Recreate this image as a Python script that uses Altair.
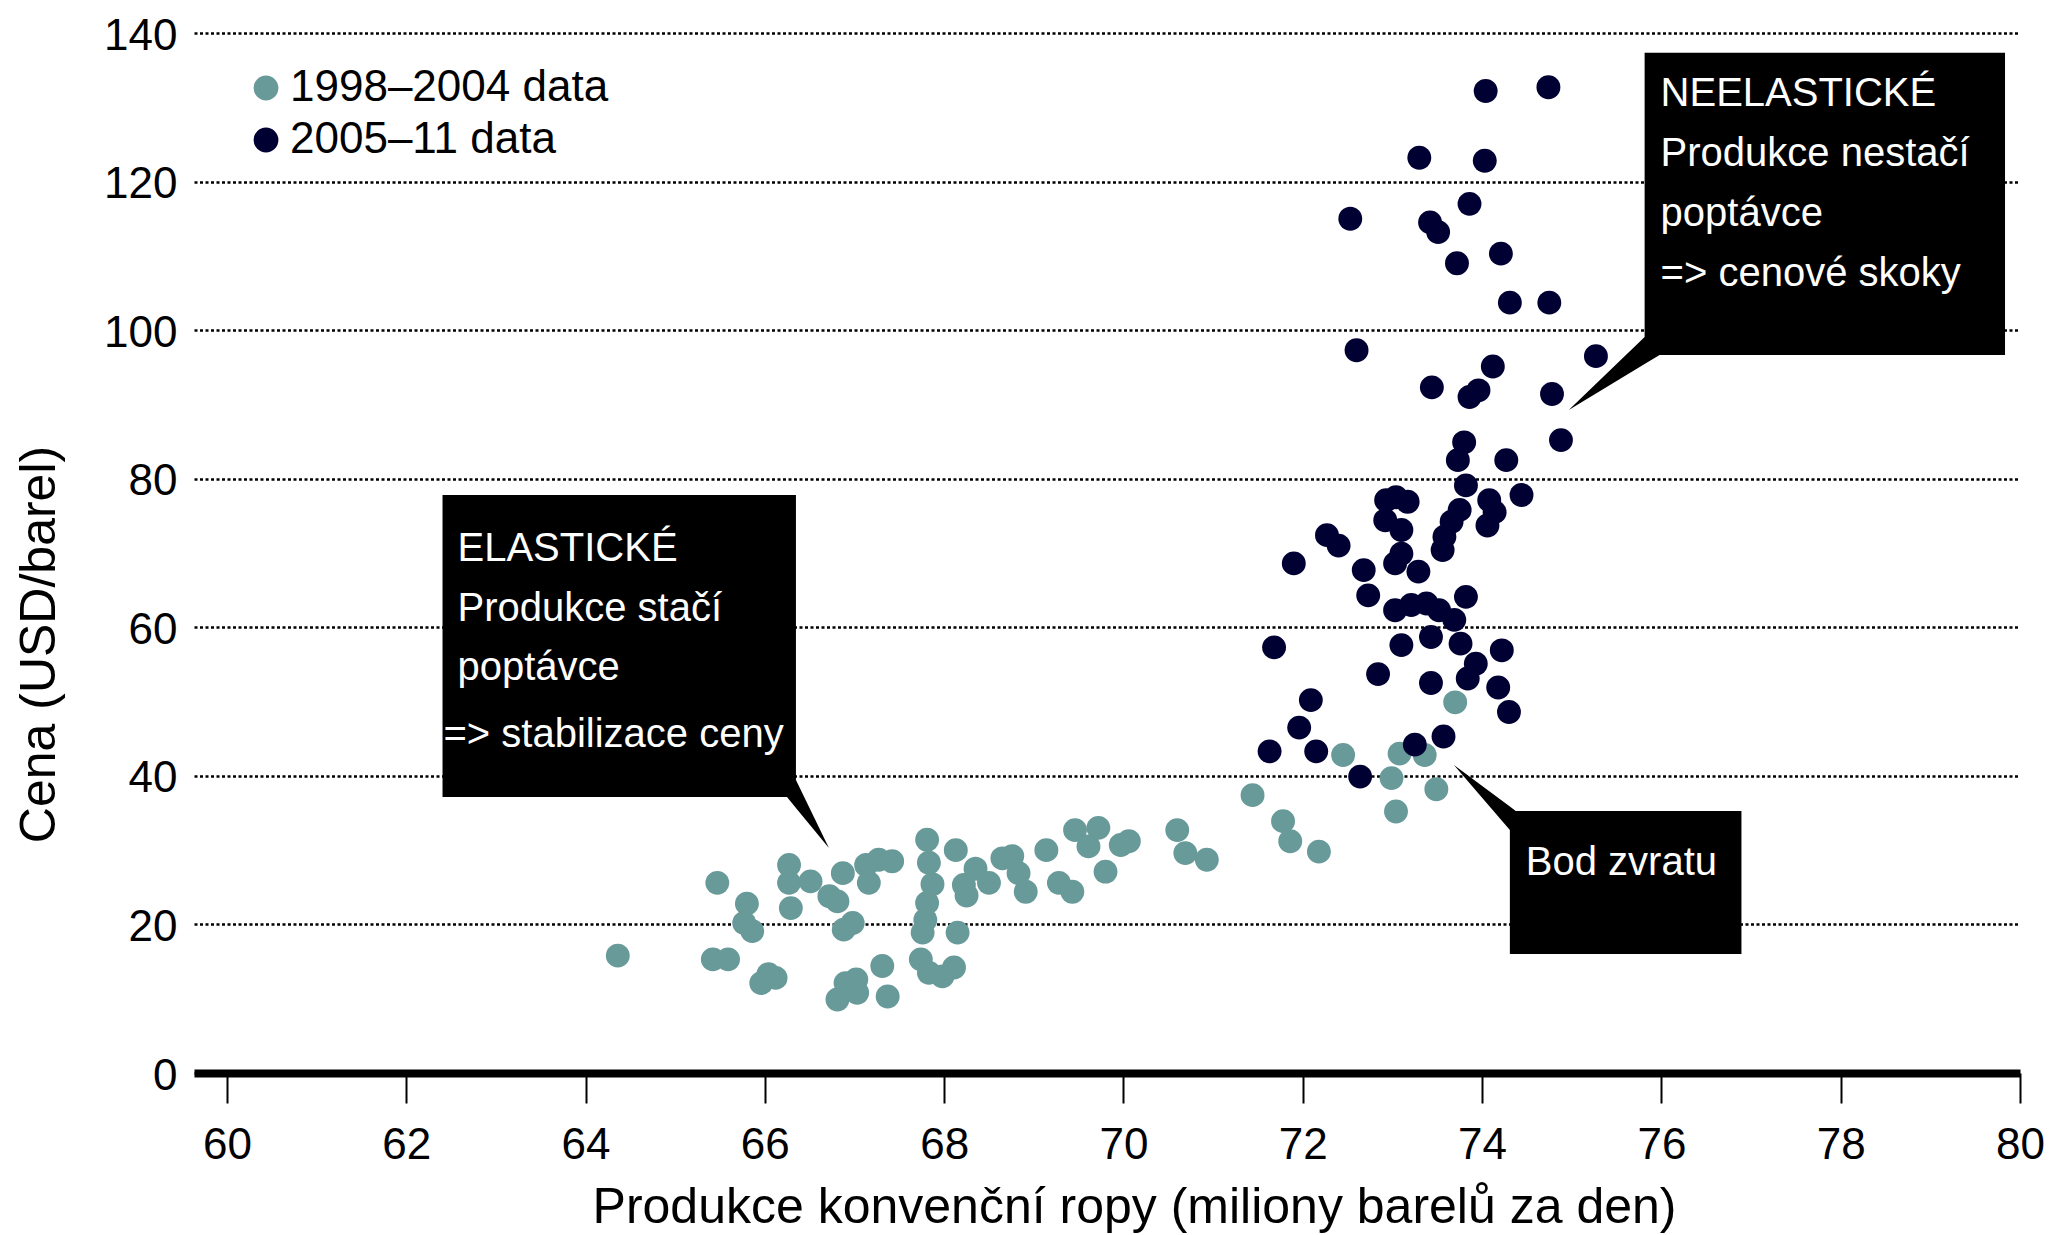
import altair as alt
import pandas as pd

# ---------------- data ----------------
series_names = ["1998–2004 data", "2005–11 data"]
series_colors = ["#679a98", "#000033"]

teal_x = [64.36, 65.47, 65.42, 65.59, 65.80, 65.77, 65.86, 65.96, 66.12, 66.04,
          66.27, 66.27, 66.29, 66.51, 66.72, 66.81, 66.87, 66.98, 66.88, 67.13,
          67.16, 67.27, 67.42, 67.31, 67.37, 66.81, 66.90, 67.02, 67.03, 67.81,
          67.83, 67.87, 67.81, 67.79, 67.76, 67.74, 67.83, 67.98, 68.11, 68.15,
          68.13, 68.22, 68.35, 68.50, 68.25, 68.65, 68.76, 68.83, 68.91, 69.14,
          69.28, 69.43, 69.46, 69.61, 69.72, 69.80, 69.97, 70.06, 70.60, 70.69,
          70.93, 71.44, 71.78, 71.86, 72.18, 72.45, 72.99, 73.04, 73.08, 73.36,
          73.49, 73.70]
teal_y = [15.8, 25.6, 15.3, 15.3, 22.8, 20.2, 19.1, 12.1, 12.8, 13.3,
          28.0, 25.6, 22.2, 25.8, 23.8, 23.1, 26.9, 20.2, 19.3, 28.0,
          25.6, 28.7, 28.5, 14.4, 10.3, 9.9, 12.1, 12.6, 10.8, 31.4,
          28.3, 25.4, 22.9, 20.6, 18.9, 15.3, 13.5, 13.0, 14.2, 18.9,
          30.0, 25.3, 27.5, 25.6, 23.9, 28.9, 29.2, 26.9, 24.4, 30.0,
          25.6, 24.4, 32.7, 30.5, 33.0, 27.1, 30.7, 31.2, 32.7, 29.6,
          28.7, 37.4, 33.9, 31.2, 29.8, 42.8, 39.7, 35.2, 43.0, 42.8,
          38.2, 49.9]

dark_x = [71.63, 72.15, 72.64, 73.25, 73.57, 73.73, 74.27, 74.88, 73.82, 74.44,
          74.08, 74.14, 74.06, 73.75, 73.66, 73.58, 73.56, 72.93, 73.17, 73.04,
          72.92, 73.10, 73.10, 73.29, 73.03, 72.68, 72.73, 72.27, 72.40, 71.90,
          73.03, 73.21, 73.38, 73.52, 73.82, 73.69, 73.43, 73.10, 73.76, 73.93,
          74.22, 73.84, 72.84, 73.43, 74.18, 74.30, 71.68, 72.09, 71.96, 74.04,
          74.74, 73.30, 74.03, 73.86, 72.53, 73.42, 73.51, 74.21, 73.72, 74.31,
          74.75, 72.60, 75.27, 74.12, 73.44, 73.96, 73.86, 74.78, 73.80]
dark_y = [43.3, 43.3, 39.9, 44.2, 45.3, 82.5, 82.5, 85.2, 79.1, 77.8,
          77.1, 75.5, 73.7, 75.8, 74.2, 72.2, 70.4, 77.1, 76.9, 77.5,
          74.4, 73.1, 69.9, 67.5, 68.6, 67.7, 64.3, 72.4, 71.0, 68.6,
          62.3, 63.0, 63.2, 62.3, 64.1, 61.0, 58.7, 57.6, 57.8, 55.1,
          56.9, 53.1, 53.7, 52.5, 51.9, 48.6, 57.3, 50.2, 46.5, 132.2,
          132.7, 123.2, 122.8, 117.0, 115.0, 114.5, 113.2, 110.3, 109.0, 103.7,
          103.7, 97.3, 96.5, 95.1, 92.3, 91.9, 91.0, 91.4, 84.9]

x_ticks = [60, 62, 64, 66, 68, 70, 72, 74, 76, 78, 80]
y_ticks = [0, 20, 40, 60, 80, 100, 120, 140]

# annotation boxes (data units)
box_x1 = [62.405, 75.813, 74.310]
box_x2 = [66.347, 79.833, 76.893]
box_y1 = [77.81, 137.35, 35.27]
box_y2 = [37.15, 96.65, 16.02]

# callout pointers (triangles as areas: x, lower, upper)
ptr_id = [1, 1, 1, 2, 2, 2, 3, 3, 3]
ptr_x = [66.247, 66.347, 66.715, 74.967, 75.813, 75.980, 73.686, 74.310, 74.376]
ptr_lo = [37.15, 35.68, 30.29, 89.25, 95.43, 96.65, 41.46, 32.71, 35.27]
ptr_hi = [37.15, 39.44, 30.29, 89.25, 99.08, 96.65, 41.46, 35.86, 35.27]

# annotation text
label_text = ["ELASTICKÉ", "Produkce stačí", "poptávce", "=> stabilizace ceny",
              "NEELASTICKÉ", "Produkce nestačí", "poptávce", "=> cenové skoky",
              "Bod zvratu"]
label_x = [62.572, 62.572, 62.572, 62.416,
           75.991, 75.991, 75.991, 75.991,
           74.488]
label_y = [68.92, 60.85, 52.90, 43.88,
           130.17, 122.10, 114.02, 105.94,
           26.65]

# ---------------- frames ----------------
pts = pd.DataFrame({
    "x": teal_x + dark_x,
    "y": teal_y + dark_y,
    "series": [series_names[0]] * len(teal_x) + [series_names[1]] * len(dark_x),
})
boxes = pd.DataFrame({"x1": box_x1, "x2": box_x2, "y1": box_y1, "y2": box_y2})
ptrs = pd.DataFrame({"id": ptr_id, "x": ptr_x, "lo": ptr_lo, "hi": ptr_hi})
labels = pd.DataFrame({"text": label_text, "x": label_x, "y": label_y})

xscale = alt.Scale(domain=[59.633, 80], nice=False, zero=False)
yscale = alt.Scale(domain=[0, 140], nice=False, zero=False)

x_axis = alt.Axis(
    values=x_ticks, format="d", title="Produkce konvenční ropy (miliony barelů za den)",
    grid=False, domainColor="black", domainWidth=8,
    tickColor="black", tickWidth=2, tickSize=30,
    labelFont="Liberation Sans", labelFontSize=44, labelColor="black",
    labelBaseline="alphabetic", labelPadding=55, labelFlush=False,
    labelOverlap=False, labelBound=False,
    titleFont="Liberation Sans", titleFontSize=50, titleFontWeight="normal",
    titleColor="black", titleX=940, titleY=149, titleAlign="center",
    titleBaseline="alphabetic",
)
y_axis = alt.Axis(
    values=y_ticks, format="d", title="Cena (USD/barel)",
    grid=True, gridColor="black", gridDash=[3, 2.5], gridWidth=2.5,
    domain=False, ticks=False,
    labelFont="Liberation Sans", labelFontSize=44, labelColor="black",
    labelPadding=17, labelBaseline="alphabetic", labelOffset=16,
    labelFlush=False, labelOverlap=False,
    titleFont="Liberation Sans", titleFontSize=50, titleFontWeight="normal",
    titleColor="black", titleX=-140, titleY=611, titleAngle=270,
    titleAlign="center", titleBaseline="alphabetic",
)

points = alt.Chart(pts).mark_circle(size=570, opacity=1).encode(
    x=alt.X("x:Q", scale=xscale, axis=x_axis),
    y=alt.Y("y:Q", scale=yscale, axis=y_axis),
    color=alt.Color(
        "series:N",
        scale=alt.Scale(domain=series_names, range=series_colors),
        legend=alt.Legend(
            title=None, orient="none", legendX=50, legendY=33,
            symbolType="circle", symbolSize=616, symbolStrokeWidth=0,
            labelFont="Liberation Sans", labelFontSize=44, labelColor="black",
            labelLimit=0, rowPadding=8, labelOffset=2, padding=0,
        ),
    ),
)

rects = alt.Chart(boxes).mark_rect(color="black").encode(
    x=alt.X("x1:Q", scale=xscale), x2="x2:Q",
    y=alt.Y("y1:Q", scale=yscale), y2="y2:Q",
)

pointers = alt.Chart(ptrs).mark_area(color="black", interpolate="linear").encode(
    x=alt.X("x:Q", scale=xscale),
    y=alt.Y("lo:Q", scale=yscale),
    y2="hi:Q",
    detail="id:N",
)

texts = alt.Chart(labels).mark_text(
    align="left", baseline="alphabetic", color="white",
    font="Liberation Sans", fontSize=40,
).encode(
    x=alt.X("x:Q", scale=xscale),
    y=alt.Y("y:Q", scale=yscale),
    text="text:N",
)

chart = alt.layer(points, rects, pointers, texts).properties(
    width=1826, height=1040,
    padding={"left": 186, "top": 25, "right": 25, "bottom": 160},
    autosize=alt.AutoSizeParams(type="none"),
    background="white",
).configure_view(stroke=None)

chart.save("out.html", embed_options={"renderer": "svg", "actions": False})
